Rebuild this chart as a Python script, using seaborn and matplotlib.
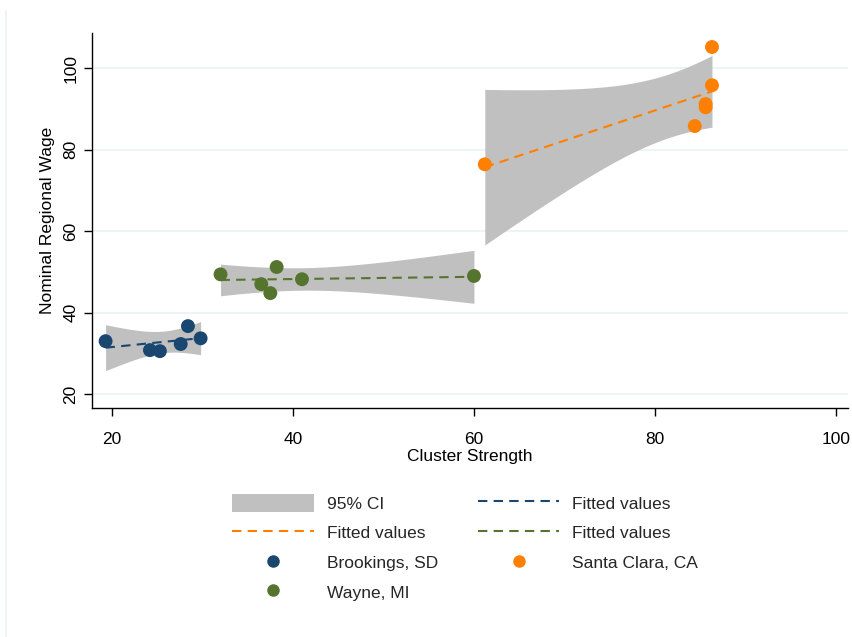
import numpy as np
import pandas as pd
import matplotlib
matplotlib.use("Agg")
import matplotlib.pyplot as plt
from matplotlib.patches import Patch
from matplotlib.lines import Line2D
import seaborn as sns
from scipy import stats

# Cluster strength and nominal regional wage for three regions
brookings_x = [19.3, 24.2, 25.3, 27.6, 28.4, 29.8]
brookings_y = [33.0, 30.8, 30.55, 32.3, 36.7, 33.7]
wayne_x = [32.0, 36.5, 37.5, 38.2, 41.0, 60.0]
wayne_y = [49.4, 47.0, 44.8, 51.2, 48.2, 49.0]
santa_x = [61.2, 84.4, 85.6, 85.6, 86.3, 86.3]
santa_y = [76.4, 85.8, 90.4, 91.2, 95.8, 105.2]

region_names = ["Brookings, SD", "Wayne, MI", "Santa Clara, CA"]
region_colors = ["#1a476f", "#55752f", "#ff8000"]

x_ticks = [20, 40, 60, 80, 100]
y_ticks = [20, 40, 60, 80, 100]

sns.set_theme(style="white")
plt.rcParams["font.family"] = ["Liberation Sans", "DejaVu Sans"]

df = pd.concat([
    pd.DataFrame({"x": brookings_x, "y": brookings_y, "region": region_names[0]}),
    pd.DataFrame({"x": wayne_x, "y": wayne_y, "region": region_names[1]}),
    pd.DataFrame({"x": santa_x, "y": santa_y, "region": region_names[2]}),
])

fig = plt.figure(figsize=(8.52, 6.37), dpi=100)
fig.patch.set_facecolor("white")
ax = fig.add_axes([0.108, 0.3595, 0.887, 0.5885])

def linear_fit_ci(x, y, n=100):
    x = np.asarray(x, float)
    y = np.asarray(y, float)
    b1, b0 = np.polyfit(x, y, 1)
    grid = np.linspace(x.min(), x.max(), n)
    fit = b0 + b1 * grid
    resid = y - (b0 + b1 * x)
    dof = len(x) - 2
    s = np.sqrt(np.sum(resid ** 2) / dof)
    sxx = np.sum((x - x.mean()) ** 2)
    se = s * np.sqrt(1.0 / len(x) + (grid - x.mean()) ** 2 / sxx)
    t = stats.t.ppf(0.975, dof)
    return grid, fit, fit - t * se, fit + t * se

fits = {}
for name in region_names:
    sub = df[df["region"] == name]
    fits[name] = linear_fit_ci(sub["x"], sub["y"])

# confidence bands
for name in region_names:
    grid, fit, lo, hi = fits[name]
    ax.fill_between(grid, lo, hi, color="#c0c0c0", linewidth=0, zorder=1)

# fitted lines
for name, col in zip(region_names, region_colors):
    grid, fit, lo, hi = fits[name]
    sns.lineplot(x=grid, y=fit, ax=ax, color=col, linewidth=1.5,
                 dashes=False, zorder=2).lines[-1].set_dashes((4.5, 3))

# observations
sns.scatterplot(data=df, x="x", y="y", hue="region", hue_order=region_names,
                palette=region_colors, s=100, edgecolor="none", ax=ax,
                legend=False, zorder=3)

ax.set_xlim(17.8, 101.3)
ax.set_ylim(16.6, 108.6)
ax.set_xticks(x_ticks)
ax.set_yticks(y_ticks)
ax.set_xticklabels([str(v) for v in x_ticks])
ax.set_yticklabels([str(v) for v in y_ticks], rotation=90, va="center")
ax.grid(axis="y", color="#eaf2f3", linewidth=1.2)
ax.grid(axis="x", visible=False)
ax.set_axisbelow(True)
for side in ["top", "right"]:
    ax.spines[side].set_visible(False)
for side in ["left", "bottom"]:
    ax.spines[side].set_color("#000000")
    ax.spines[side].set_linewidth(1.0)
ax.tick_params(axis="both", which="major", direction="out", length=6,
               width=1.0, color="#000000", labelsize=12.5, labelcolor="#000000",
               left=True, bottom=True, pad=4)
ax.tick_params(axis="x", pad=11)
ax.set_xlabel("Cluster Strength", fontsize=12.5, color="#000000", labelpad=2)
ax.set_ylabel("Nominal Regional Wage", fontsize=12.5, color="#000000", labelpad=6)

# legend
def fit_handle(col):
    return Line2D([], [], color=col, linewidth=1.5, dashes=(4.5, 3))

def dot_handle(col):
    return Line2D([], [], color=col, marker="o", linestyle="none", markersize=9,
                  markeredgewidth=0)

handles = [
    Patch(facecolor="#c0c0c0", edgecolor="none"),
    fit_handle(region_colors[2]),
    dot_handle(region_colors[0]),
    dot_handle(region_colors[1]),
    fit_handle(region_colors[0]),
    fit_handle(region_colors[1]),
    dot_handle(region_colors[2]),
]
labels = ["95% CI", "Fitted values", "Brookings, SD", "Wayne, MI",
          "Fitted values", "Fitted values", "Santa Clara, CA"]
fig.legend(handles, labels, ncol=2, loc="upper left",
           bbox_to_anchor=(0.262, 0.238), frameon=False, fontsize=12.5,
           handlelength=4.7, handleheight=1.2, handletextpad=0.75,
           columnspacing=2.3, labelspacing=0.68, borderpad=0)

# faint graph-region border
fig.add_artist(Line2D([0.007, 0.007], [0.0, 0.983], color="#eaf2f3",
                      linewidth=1.2, transform=fig.transFigure))

fig.savefig("out.png", dpi=100, facecolor="white")
